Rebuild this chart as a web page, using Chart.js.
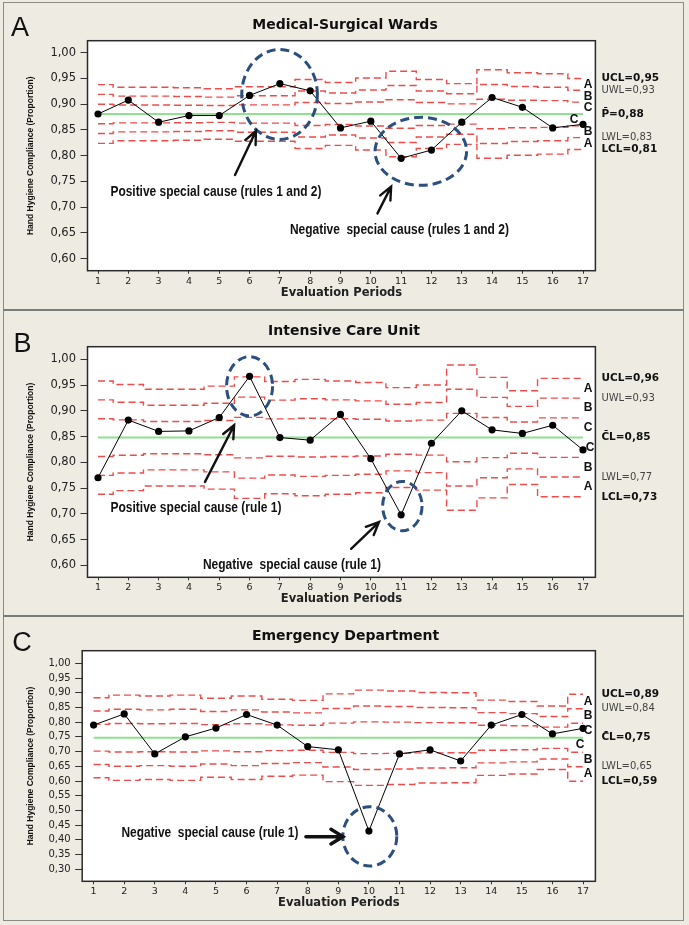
<!DOCTYPE html>
<html>
<head>
<meta charset="utf-8">
<script src="https://cdn.jsdelivr.net/npm/chart.js@4/dist/chart.umd.min.js"></script>
<style>
  body { margin:0; background:#eeebe2; width:689px; height:925px; overflow:hidden; position:relative; }
  .frame { position:absolute; box-sizing:border-box; }
  canvas { position:absolute; left:0; }
</style>
</head>
<body>
<div class="frame" style="left:3px;top:2px;width:681px;height:919px;border:1px solid #8c8c86"></div>
<div class="frame" style="left:3px;top:309px;width:681px;height:2px;background:#7d7d77"></div>
<div class="frame" style="left:3px;top:615px;width:681px;height:2px;background:#7d7d77"></div>
<canvas id="cA" width="689" height="310" style="top:0px"></canvas>
<canvas id="cB" width="689" height="306" style="top:310px"></canvas>
<canvas id="cC" width="689" height="309" style="top:616px"></canvas>
<script>
// evaluation periods (x axis)
var periods = [1,2,3,4,5,6,7,8,9,10,11,12,13,14,15,16,17];
var yTicksAB = [0.60,0.65,0.70,0.75,0.80,0.85,0.90,0.95,1.00];
var yTicksC = [0.30,0.35,0.40,0.45,0.50,0.55,0.60,0.65,0.70,0.75,0.80,0.85,0.90,0.95,1.00];

// A - medical-surgical wards
var wardsRate = [0.881,0.908,0.865,0.878,0.878,0.917,0.940,0.926,0.854,0.867,0.795,0.811,0.865,0.913,0.894,0.854,0.861];
var wardsCenter = 0.881;
var wardsUcl = [0.938,0.933,0.933,0.932,0.930,0.934,0.934,0.948,0.942,0.951,0.964,0.948,0.940,0.967,0.961,0.959,0.950];
var wardsLabels = ['UCL=0,95','UWL=0,93','P\u0304=0,88','LWL=0,83','LCL=0,81'];

// B - intensive care unit
var icuRate = [0.770,0.882,0.860,0.861,0.887,0.967,0.848,0.843,0.893,0.807,0.698,0.837,0.900,0.863,0.856,0.872,0.824];
var icuCenter = 0.848;
var icuUcl = [0.958,0.951,0.942,0.942,0.948,0.966,0.957,0.961,0.958,0.955,0.945,0.950,0.989,0.965,0.939,0.963,0.963];
var icuLabels = ['UCL=0,96','UWL=0,93','C\u0304L=0,85','LWL=0,77','LCL=0,73'];

// C - emergency department
var edRate = [0.790,0.828,0.692,0.750,0.780,0.826,0.790,0.717,0.706,0.430,0.692,0.706,0.668,0.790,0.826,0.760,0.779];
var edCenter = 0.747;
var edUcl = [0.883,0.892,0.889,0.892,0.881,0.889,0.878,0.874,0.896,0.909,0.906,0.901,0.900,0.875,0.870,0.855,0.895];
var edLabels = ['UCL=0,89','UWL=0,84','C\u0304L=0,75','LWL=0,65','LCL=0,59'];

var zoneLetters = ['A','B','C','C','B','A'];

// sigma lines: +3,+2,+1,-1,-2,-3 around the centre line
function limitLine(center, ucl, k) {
  return periods.map(function(p, i) { return { x: p, y: center + k * (ucl[i] - center) / 3 }; });
}

function fitText(ctx, text, x, y, width, font) {
  ctx.save();
  ctx.font = font;
  var w = ctx.measureText(text).width;
  ctx.translate(x, y);
  ctx.scale(width / w, 1);
  ctx.textAlign = 'left';
  ctx.textBaseline = 'middle';
  ctx.fillText(text, 0, 0);
  ctx.restore();
}

function drawArrow(ctx, x1, y1, x2, y2, lw, head, ang) {
  var a = Math.atan2(y2 - y1, x2 - x1);
  ctx.save();
  ctx.strokeStyle = '#111';
  ctx.lineWidth = lw;
  ctx.lineCap = 'round';
  ctx.beginPath();
  ctx.moveTo(x1, y1); ctx.lineTo(x2, y2);
  ctx.moveTo(x2 - head * Math.cos(a - ang), y2 - head * Math.sin(a - ang));
  ctx.lineTo(x2, y2);
  ctx.lineTo(x2 - head * Math.cos(a + ang), y2 - head * Math.sin(a + ang));
  ctx.stroke();
  ctx.restore();
}

var panelPlugin = {
  id: 'panelDecor',
  beforeDraw: function(chart) {
    var a = chart.chartArea, ctx = chart.ctx;
    ctx.save();
    ctx.fillStyle = '#ffffff';
    ctx.fillRect(a.left, a.top, a.right - a.left, a.bottom - a.top);
    ctx.restore();
  },
  afterDraw: function(chart) {
    var o = chart.options.plugins.panelDecor;
    var a = chart.chartArea, ctx = chart.ctx;
    var xs = chart.scales.x, ys = chart.scales.y;
    ctx.save();
    // plot frame
    ctx.strokeStyle = '#2a2a2a';
    ctx.lineWidth = 1.5;
    ctx.strokeRect(a.left, a.top, a.right - a.left, a.bottom - a.top);

    // title and panel letter
    ctx.fillStyle = '#111';
    ctx.textAlign = 'center';
    ctx.textBaseline = 'middle';
    ctx.font = 'bold 14px "DejaVu Sans"';
    ctx.fillText(o.title, o.titleX, o.titleY);
    ctx.font = '27px "Liberation Sans Narrow", "Liberation Sans"';
    ctx.fillText(o.letter, o.letterX, o.letterY);

    // limit labels at the right
    var last = periods.length - 1;
    var sig = (o.ucl[last] - o.center) / 3;
    var levels = [3, 2, 0, -2, -3];
    ctx.textAlign = 'left';
    levels.forEach(function(k, i) {
      var bold = (k === 3 || k === 0 || k === -3);
      ctx.font = (bold ? 'bold 10.5px ' : '10px ') + '"DejaVu Sans"';
      ctx.fillStyle = bold ? '#111' : '#444';
      ctx.fillText(o.labels[i], a.right + 6, ys.getPixelForValue(o.center + k * sig));
    });

    // zone letters
    ctx.font = 'bold 12px "Liberation Sans Narrow", "Liberation Sans"';
    ctx.fillStyle = '#111';
    ctx.textAlign = 'center';
    var xl = xs.getPixelForValue(periods[last]);
    [2.5, 1.5, 0.5, -0.5, -1.5, -2.5].forEach(function(k, i) {
      var dx = (k === -0.5) ? o.lowerCShift : 5;
      ctx.fillText(zoneLetters[i], xl + dx, ys.getPixelForValue(o.center + k * sig));
    });

    // annotations
    ctx.strokeStyle = '#2b4f7e';
    ctx.lineWidth = 3;
    ctx.setLineDash([9, 5]);
    o.notes.ellipses.forEach(function(e) {
      ctx.beginPath();
      ctx.ellipse(xs.getPixelForValue(e.x), ys.getPixelForValue(e.y), e.rx, e.ry, 0, 0, Math.PI * 2);
      ctx.stroke();
    });
    ctx.setLineDash([]);
    o.notes.arrows.forEach(function(r) {
      drawArrow(ctx, xs.getPixelForValue(r.x1), ys.getPixelForValue(r.y1),
        xs.getPixelForValue(r.x2), ys.getPixelForValue(r.y2), r.lw, r.head, r.ang);
    });
    ctx.fillStyle = '#111';
    o.notes.texts.forEach(function(t) {
      fitText(ctx, t.text, xs.getPixelForValue(t.x), ys.getPixelForValue(t.y), t.w,
        'bold 15px "Liberation Sans Narrow", "Liberation Sans"');
    });
    ctx.restore();
  }
};

function makePanel(cfg) {
  var H = document.getElementById(cfg.canvas).height;
  var ar = cfg.area;
  var datasets = [
    { data: periods.map(function(p, i) { return { x: p, y: cfg.rate[i] }; }),
      borderColor: '#000', borderWidth: 1, pointRadius: 3.6, pointBackgroundColor: '#000',
      pointBorderWidth: 0 },
    { data: periods.map(function(p) { return { x: p, y: cfg.center }; }),
      borderColor: '#8fe08f', borderWidth: 2, pointRadius: 0 }
  ];
  [3, 2, 1, -1, -2, -3].forEach(function(k) {
    datasets.push({ data: limitLine(cfg.center, cfg.ucl, k), stepped: 'middle',
      borderColor: '#ee4b4b', borderWidth: 1.4, borderDash: [7, 4], pointRadius: 0 });
  });

  return new Chart(document.getElementById(cfg.canvas), {
    type: 'line',
    data: { datasets: datasets },
    options: {
      responsive: false,
      animation: false,
      events: [],
      layout: { padding: { top: ar.top, right: 689 - ar.right, bottom: H - ar.bottom - 30, left: 0 } },
      plugins: {
        legend: { display: false },
        tooltip: { enabled: false },
        panelDecor: cfg.decor
      },
      scales: {
        x: {
          type: 'linear', min: cfg.xMin, max: cfg.xMax,
          afterBuildTicks: function(s) { s.ticks = periods.map(function(v) { return { value: v }; }); },
          afterFit: function(s) { s.height = 30; },
          ticks: { font: { family: 'DejaVu Sans', size: 9.5 }, color: '#222', padding: 2,
            maxRotation: 0, autoSkip: false, callback: function(v) { return String(v); } },
          grid: { drawOnChartArea: false, drawTicks: true, tickLength: 3, color: '#333' },
          border: { display: false },
          title: { display: true, text: 'Evaluation Periods', color: '#222',
            font: { family: 'DejaVu Sans', size: 11.5, weight: 'bold' },
            padding: { top: 0, bottom: cfg.xTitlePad } }
        },
        y: {
          min: cfg.yMin, max: cfg.yMax,
          afterBuildTicks: function(s) { s.ticks = cfg.yTicks.map(function(v) { return { value: v }; }); },
          afterFit: function(s) { s.width = ar.left; },
          ticks: { font: { family: 'DejaVu Sans', size: cfg.yFont }, color: '#222', padding: 4.5,
            callback: function(v) { return v.toFixed(2).replace('.', ','); } },
          grid: { drawOnChartArea: false, drawTicks: true, tickLength: 7, color: '#333' },
          border: { display: false },
          title: { display: true, text: 'Hand Hygiene Compliance (Proportion)', color: '#111',
            font: { family: 'Liberation Sans', size: 8.5, weight: 'bold' },
            padding: { top: 26, bottom: 0 } }
        }
      }
    },
    plugins: [panelPlugin]
  });
}

makePanel({
  canvas: 'cA', rate: wardsRate, center: wardsCenter, ucl: wardsUcl, yTicks: yTicksAB, yFont: 11.5,
  yMin: 0.5767, yMax: 1.0233, xMin: 0.6536, xMax: 17.409, xTitlePad: 0.8,
  area: { left: 87.5, right: 595.4, top: 40.7, bottom: 270.7 },
  decor: {
    title: 'Medical-Surgical Wards', titleX: 345, titleY: 25, letter: 'A', letterX: 20, letterY: 28.5,
    center: wardsCenter, ucl: wardsUcl, labels: wardsLabels, lowerCShift: -9,
    notes: {
      ellipses: [{ x: 6.99, y: 0.919, rx: 37.8, ry: 45 }, { x: 11.65, y: 0.8085, rx: 45.8, ry: 34 }],
      arrows: [{ x1: 5.52, y1: 0.7625, x2: 6.21, y2: 0.848, lw: 2.4, head: 14, ang: 0.42 },
               { x1: 10.22, y1: 0.688, x2: 10.67, y2: 0.740, lw: 2.4, head: 14, ang: 0.42 }],
      texts: [{ x: 1.41, y: 0.730, w: 211, text: 'Positive special cause (rules 1 and 2)' },
              { x: 7.33, y: 0.656, w: 219, text: 'Negative  special cause (rules 1 and 2)' }]
    }
  }
});

makePanel({
  canvas: 'cB', rate: icuRate, center: icuCenter, ucl: icuUcl, yTicks: yTicksAB, yFont: 11.5,
  yMin: 0.5767, yMax: 1.0245, xMin: 0.6536, xMax: 17.409, xTitlePad: 1.7,
  area: { left: 87.5, right: 595.4, top: 36.7, bottom: 267.3 },
  decor: {
    title: 'Intensive Care Unit', titleX: 344, titleY: 21.7, letter: 'B', letterX: 22.5, letterY: 34.7,
    center: icuCenter, ucl: icuUcl, labels: icuLabels, lowerCShift: 7,
    notes: {
      ellipses: [{ x: 6.0, y: 0.9476, rx: 23, ry: 29.7 }, { x: 11.04, y: 0.715, rx: 19.7, ry: 24.7 }],
      arrows: [{ x1: 4.53, y1: 0.762, x2: 5.49, y2: 0.872, lw: 2.4, head: 14, ang: 0.42 },
               { x1: 9.35, y1: 0.632, x2: 10.27, y2: 0.684, lw: 2.4, head: 14, ang: 0.42 }],
      texts: [{ x: 1.41, y: 0.712, w: 171, text: 'Positive special cause (rule 1)' },
              { x: 4.46, y: 0.600, w: 178, text: 'Negative  special cause (rule 1)' }]
    }
  }
});

makePanel({
  canvas: 'cC', rate: edRate, center: edCenter, ucl: edUcl, yTicks: yTicksC, yFont: 10,
  yMin: 0.2592, yMax: 1.0428, xMin: 0.627, xMax: 17.405, xTitlePad: 1.7,
  area: { left: 82.2, right: 595.4, top: 34.7, bottom: 265.3 },
  decor: {
    title: 'Emergency Department', titleX: 345.6, titleY: 20, letter: 'C', letterX: 22, letterY: 27.3,
    center: edCenter, ucl: edUcl, labels: edLabels, lowerCShift: -3,
    notes: {
      ellipses: [{ x: 10.03, y: 0.412, rx: 27, ry: 29.7 }],
      arrows: [{ x1: 7.94, y1: 0.411, x2: 9.15, y2: 0.411, lw: 3.5, head: 14, ang: 0.55 }],
      texts: [{ x: 1.91, y: 0.4244, w: 177, text: 'Negative  special cause (rule 1)' }]
    }
  }
});
</script>
</body>
</html>
